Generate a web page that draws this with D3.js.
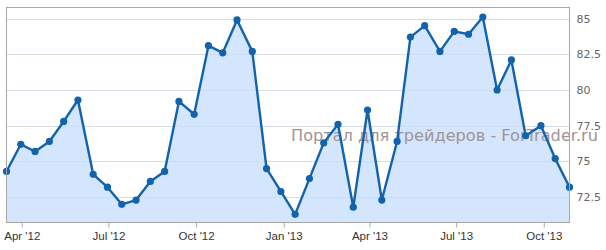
<!DOCTYPE html>
<html><head><meta charset="utf-8">
<script src="https://cdn.jsdelivr.net/npm/d3@7"></script>
<style>body{margin:0;background:#fff;}svg{display:block;}</style>
</head><body>
<svg id="c" width="606" height="250"></svg>
<script>
const dates = ["2012-03-16","2012-03-31","2012-04-15","2012-04-30","2012-05-15","2012-05-30","2012-06-15","2012-06-30","2012-07-15","2012-07-30","2012-08-14","2012-08-29","2012-09-13","2012-09-29","2012-10-14","2012-10-29","2012-11-13","2012-11-29","2012-12-14","2012-12-29","2013-01-13","2013-01-28","2013-02-12","2013-02-27","2013-03-15","2013-03-30","2013-04-14","2013-04-30","2013-05-14","2013-05-29","2013-06-14","2013-06-29","2013-07-14","2013-07-29","2013-08-13","2013-08-28","2013-09-12","2013-09-28","2013-10-13","2013-10-28"];
const values = [74.3,76.2,75.7,76.4,77.8,79.3,74.1,73.2,72.0,72.3,73.6,74.3,79.2,78.3,83.1,82.6,84.9,82.7,74.5,72.9,71.3,73.8,76.3,77.6,71.8,78.6,72.3,76.4,83.7,84.5,82.7,84.1,83.9,85.1,80.0,82.1,76.8,77.5,75.2,73.2];
const yTicks = [72.5,75,77.5,80,82.5,85];
const xTickDates = ["2012-04-01","2012-07-01","2012-10-01","2013-01-01","2013-04-01","2013-07-01","2013-10-01"];
const watermark = "Портал для трейдеров - ForTrader.ru";

const parse = d3.utcParse("%Y-%m-%d");
const data = dates.map((d,i)=>({date:parse(d), v:values[i]}));
const L=6.5, R=569.5, T=7.5, B=222.5;
const svg = d3.select("#c");
const x = d3.scaleUtc().domain([data[0].date, data[data.length-1].date]).range([L, R]);
const y = d3.scaleLinear().domain([70.73, 85.77]).range([B, T]);

// grid
svg.append("g").selectAll("line").data(yTicks).join("line")
  .attr("x1",L).attr("x2",R).attr("y1",d=>Math.round(y(d))+0.5).attr("y2",d=>Math.round(y(d))+0.5)
  .attr("stroke","#e6e6e6").attr("stroke-width",1);

// area
svg.append("path").datum(data)
  .attr("d", d3.area().x(d=>x(d.date)).y0(B).y1(d=>y(d.v)))
  .attr("fill","#d3e6fd");

// grid over fill
svg.append("g").selectAll("line").data(yTicks).join("line")
  .attr("x1",L).attr("x2",R).attr("y1",d=>Math.round(y(d))+0.5).attr("y2",d=>Math.round(y(d))+0.5)
  .attr("stroke","#c8d6e6").attr("stroke-width",1).attr("opacity",0.5);

// watermark
svg.append("text").attr("x",291).attr("y",141).text(watermark)
  .attr("font-family","DejaVu Sans").attr("font-size",16.5).attr("fill","#a09494")
  .attr("textLength",307).attr("lengthAdjust","spacingAndGlyphs");

// line
svg.append("path").datum(data)
  .attr("d", d3.line().x(d=>x(d.date)).y(d=>y(d.v)))
  .attr("fill","none").attr("stroke","#1262ac").attr("stroke-width",2.4).attr("stroke-linejoin","round");
svg.append("g").selectAll("circle").data(data).join("circle")
  .attr("cx",d=>x(d.date)).attr("cy",d=>y(d.v)).attr("r",3.6).attr("fill","#1262ac");

// frame
svg.append("rect").attr("x",L).attr("y",T).attr("width",R-L).attr("height",B-T)
  .attr("fill","none").attr("stroke","#a8a8a8").attr("stroke-width",1);

// x axis
const xa = d3.axisBottom(x).tickValues(xTickDates.map(parse))
  .tickFormat(d3.utcFormat("%b '%y")).tickSize(5).tickSizeOuter(0);
const gx = svg.append("g").attr("transform",`translate(0,${B})`).call(xa);
gx.select(".domain").remove();
gx.selectAll(".tick line").attr("stroke","#a8a8a8");
gx.selectAll(".tick text").attr("font-family","Liberation Sans, Arial").attr("font-size",11.5)
  .attr("fill","#333").attr("dy","0.9em").attr("y",7);

// y axis
const ya = d3.axisRight(y).tickValues(yTicks).tickSize(0).tickFormat(d=>String(d));
const gy = svg.append("g").attr("transform",`translate(${R},0)`).call(ya);
gy.select(".domain").remove();
gy.selectAll(".tick text").attr("x",7).attr("font-family","DejaVu Sans").attr("font-size",11)
  .attr("fill","#666");
</script>
</body></html>
